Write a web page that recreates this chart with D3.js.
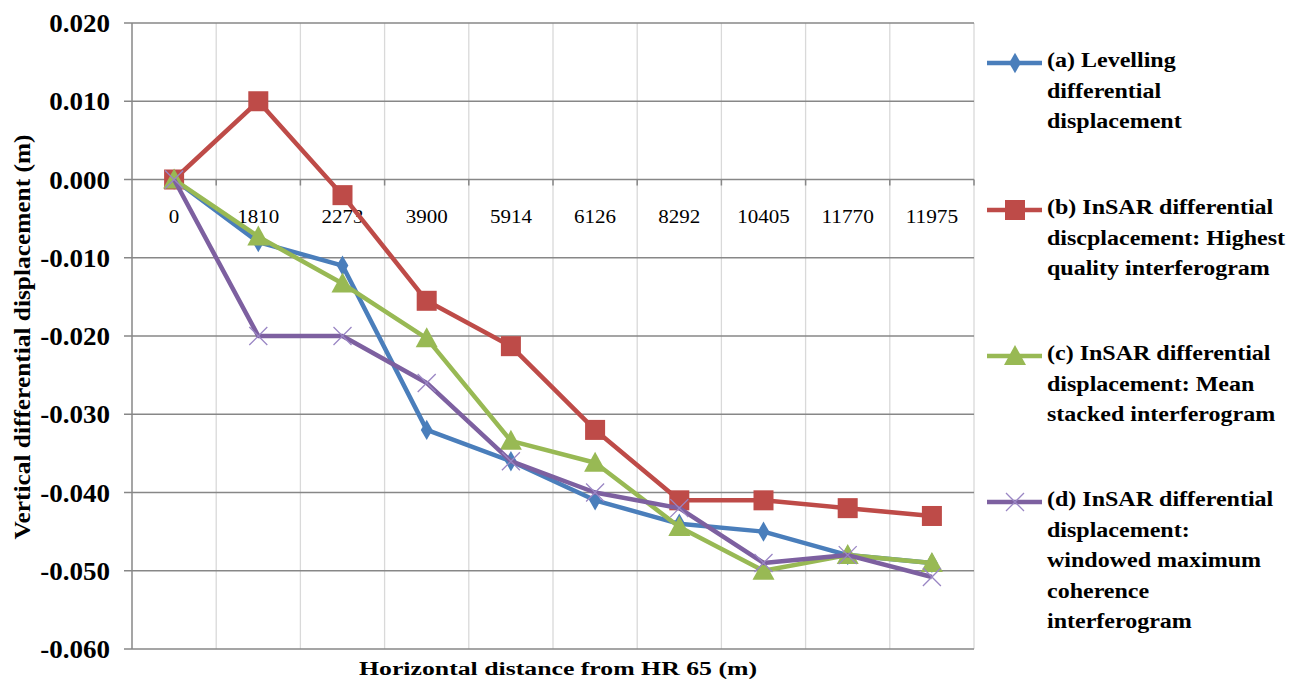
<!DOCTYPE html>
<html>
<head>
<meta charset="utf-8">
<script src="https://cdn.jsdelivr.net/npm/d3@7"></script>
<style>
  body { margin: 0; background: #fff; }
</style>
</head>
<body>
<div id="chart"></div>
<script>
var width = 1295, height = 684;

// horizontal distance categories (m)
var distances = ["0", "1810", "2273", "3900", "5914", "6126", "8292", "10405", "11770", "11975"];
var yTicks = [0.02, 0.01, 0, -0.01, -0.02, -0.03, -0.04, -0.05, -0.06];

var levelling = [0, -0.008, -0.011, -0.032, -0.036, -0.041, -0.044, -0.045, -0.048, -0.049];
var highestQuality = [0, 0.010, -0.002, -0.0155, -0.0213, -0.032, -0.041, -0.041, -0.042, -0.043];
var meanStacked = [0, -0.0073, -0.0133, -0.0203, -0.0334, -0.0362, -0.0444, -0.050, -0.048, -0.049];
var windowedMax = [0, -0.020, -0.020, -0.026, -0.036, -0.040, -0.042, -0.049, -0.048, -0.0508];

var seriesNames = [
  ["(a) Levelling", "differential", "displacement"],
  ["(b) InSAR differential", "discplacement: Highest", "quality interferogram"],
  ["(c) InSAR differential", "displacement: Mean", "stacked interferogram"],
  ["(d) InSAR differential", "displacement:", "windowed maximum", "coherence", "interferogram"]
];

var series = [
  { values: levelling, color: "#4a7ebb", marker: "diamond" },
  { values: highestQuality, color: "#be4b48", marker: "square" },
  { values: meanStacked, color: "#98b954", marker: "triangle" },
  { values: windowedMax, color: "#7d60a0", marker: "cross" }
];

var plot = { left: 132, right: 974, top: 23, bottom: 649 };
var serif = "'Liberation Serif', 'Times New Roman', 'DejaVu Serif', serif";

var svg = d3.select("#chart").append("svg")
  .attr("width", width).attr("height", height)
  .attr("font-family", serif)
  .style("font-family", serif);

// the source text is drawn wider than the font's natural width
function stretch(sel, k) {
  sel.each(function() {
    var w = this.getComputedTextLength();
    d3.select(this).attr("textLength", w * k).attr("lengthAdjust", "spacingAndGlyphs");
  });
}

var x = d3.scaleBand().domain(distances).range([plot.left, plot.right]);
var y = d3.scaleLinear().domain([-0.06, 0.02]).range([plot.bottom, plot.top]);

// vertical gridlines (light)
svg.append("g").selectAll("line")
  .data(distances)
  .enter().append("line")
  .attr("x1", function(d) { return x(d) + x.bandwidth(); })
  .attr("x2", function(d) { return x(d) + x.bandwidth(); })
  .attr("y1", plot.top).attr("y2", plot.bottom)
  .attr("stroke", "#d9d9d9").attr("stroke-width", 1.3);

// horizontal gridlines
svg.append("g").selectAll("line")
  .data(yTicks)
  .enter().append("line")
  .attr("x1", plot.left - 8).attr("x2", plot.right)
  .attr("y1", function(d) { return y(d); }).attr("y2", function(d) { return y(d); })
  .attr("stroke", "#878787").attr("stroke-width", 1.5);

// y axis line
svg.append("line")
  .attr("x1", plot.left).attr("x2", plot.left)
  .attr("y1", plot.top).attr("y2", plot.bottom)
  .attr("stroke", "#878787").attr("stroke-width", 1.5);

// category axis tick marks at zero line
svg.append("g").selectAll("line")
  .data(distances)
  .enter().append("line")
  .attr("x1", function(d) { return x(d) + x.bandwidth(); })
  .attr("x2", function(d) { return x(d) + x.bandwidth(); })
  .attr("y1", y(0)).attr("y2", y(0) + 6)
  .attr("stroke", "#878787").attr("stroke-width", 1.5);

// y tick labels
svg.append("g").selectAll("text")
  .data(yTicks)
  .enter().append("text")
  .attr("x", 110).attr("y", function(d) { return y(d) + 9; })
  .attr("text-anchor", "end")
  .style("font-size", "25px").style("font-weight", "bold")
  .text(function(d) { return d3.format(".3f")(d).replace("−", "-"); })
  .call(stretch, 1.08);

// x tick labels, under the zero line (about 10.5px per digit)
svg.append("g").selectAll("text")
  .data(distances)
  .enter().append("text")
  .attr("x", function(d) { return x(d) + x.bandwidth() / 2; })
  .attr("y", y(0) + 43)
  .attr("text-anchor", "middle")
  .attr("textLength", function(d) { return d.length * 10.5; })
  .attr("lengthAdjust", "spacingAndGlyphs")
  .style("font-size", "19px")
  .text(function(d) { return d; });

// axis titles
svg.append("text")
  .attr("transform", "translate(30,337) rotate(-90)")
  .attr("text-anchor", "middle")
  .attr("textLength", 405).attr("lengthAdjust", "spacingAndGlyphs")
  .style("font-size", "24px").style("font-weight", "bold")
  .text("Vertical differential displacement (m)");

svg.append("text")
  .attr("x", 558).attr("y", 675)
  .attr("text-anchor", "middle")
  .attr("textLength", 398).attr("lengthAdjust", "spacingAndGlyphs")
  .style("font-size", "18px").style("font-weight", "bold")
  .text("Horizontal distance from HR 65 (m)");

var line = d3.line()
  .x(function(d, i) { return x(distances[i]) + x.bandwidth() / 2; })
  .y(function(d) { return y(d); });

function drawMarker(g, type, color, cx, cy) {
  if (type === "diamond") {
    g.append("path")
      .attr("d", d3.symbol().type(d3.symbolDiamond).size(120)())
      .attr("transform", "translate(" + cx + "," + cy + ")")
      .attr("fill", color);
  } else if (type === "square") {
    g.append("rect")
      .attr("x", cx - 10).attr("y", cy - 10)
      .attr("width", 20).attr("height", 20)
      .attr("fill", color);
  } else if (type === "triangle") {
    g.append("path")
      .attr("d", "M" + cx + "," + (cy - 11) + "L" + (cx + 11) + "," + (cy + 9) + "L" + (cx - 11) + "," + (cy + 9) + "Z")
      .attr("fill", color);
  } else {
    g.append("path")
      .attr("d", "M" + (cx - 9) + "," + (cy - 9) + "L" + (cx + 9) + "," + (cy + 9) +
                 "M" + (cx - 9) + "," + (cy + 9) + "L" + (cx + 9) + "," + (cy - 9))
      .attr("stroke", "#9a86c4").attr("stroke-width", 1.3).attr("fill", "none");
  }
}

series.forEach(function(s) {
  var g = svg.append("g");
  g.append("path")
    .datum(s.values)
    .attr("d", line)
    .attr("fill", "none")
    .attr("stroke", s.color)
    .attr("stroke-width", 4.5)
    .attr("stroke-linejoin", "round");
  s.values.forEach(function(v, i) {
    drawMarker(g, s.marker, s.color, x(distances[i]) + x.bandwidth() / 2, y(v));
  });
});

// legend
var legendTops = [63, 210, 356, 502];
var legend = svg.append("g");
series.forEach(function(s, k) {
  var ly = legendTops[k];
  var g = legend.append("g");
  g.append("line")
    .attr("x1", 987).attr("x2", 1042)
    .attr("y1", ly).attr("y2", ly)
    .attr("stroke", s.color).attr("stroke-width", 4.5);
  drawMarker(g, s.marker, s.color, 1015, ly);
  g.selectAll("text")
    .data(seriesNames[k])
    .enter().append("text")
    .attr("x", 1047).attr("y", function(t, j) { return ly + 4 + j * 30.6; })
    .style("font-size", "20px").style("font-weight", "bold")
    .text(function(t) { return t; })
    .call(stretch, 1.2);
});
</script>
</body>
</html>
